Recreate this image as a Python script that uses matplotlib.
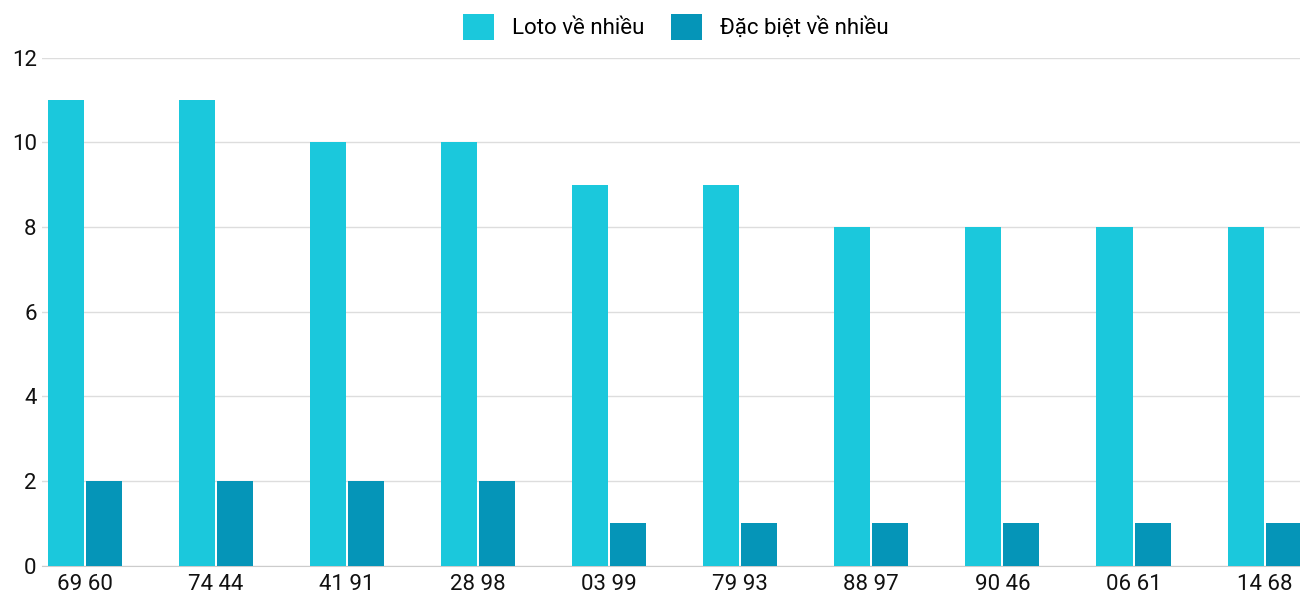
import numpy as np
import matplotlib
matplotlib.use("Agg")
from matplotlib import pyplot as plt

plt.rcParams['font.family'] = ['Roboto', 'DejaVu Sans']

pairs = ["69 60", "74 44", "41 91", "28 98", "03 99", "79 93", "88 97", "90 46", "06 61", "14 68"]
loto = [11, 11, 10, 10, 9, 9, 8, 8, 8, 8]
dacbiet = [2, 2, 2, 2, 1, 1, 1, 1, 1, 1]

fig = plt.figure(figsize=(13, 6), dpi=100)
ax = fig.add_axes([0.032, 0.057, 0.968, 0.847])

x = np.arange(len(pairs))
w = 0.275
ax.bar(x - 0.145, loto, w, color="#1bc8dc", label="Loto về nhiều", zorder=3)
ax.bar(x + 0.145, dacbiet, w, color="#0595b8", label="Đặc biệt về nhiều", zorder=3)

ax.set_xlim(-0.33, 9.27)
ax.set_ylim(0, 12)
ax.set_yticks(range(0, 13, 2))
ax.set_xticks(x)
ax.set_xticklabels(pairs)
ax.grid(axis="y", color="#dddddd", linewidth=1, zorder=0)
ax.tick_params(axis="both", length=0, labelsize=16, colors="#111111")
ax.tick_params(axis="x", pad=6)
for s in ["top", "right", "left"]:
    ax.spines[s].set_visible(False)
ax.spines["bottom"].set_color("#cccccc")

fig.legend(loc="upper center", bbox_to_anchor=(0.52, 1.01), ncol=2, frameon=False,
           fontsize=16, handlelength=1.4, handleheight=1.4, columnspacing=1.2)

fig.savefig("out.png")
